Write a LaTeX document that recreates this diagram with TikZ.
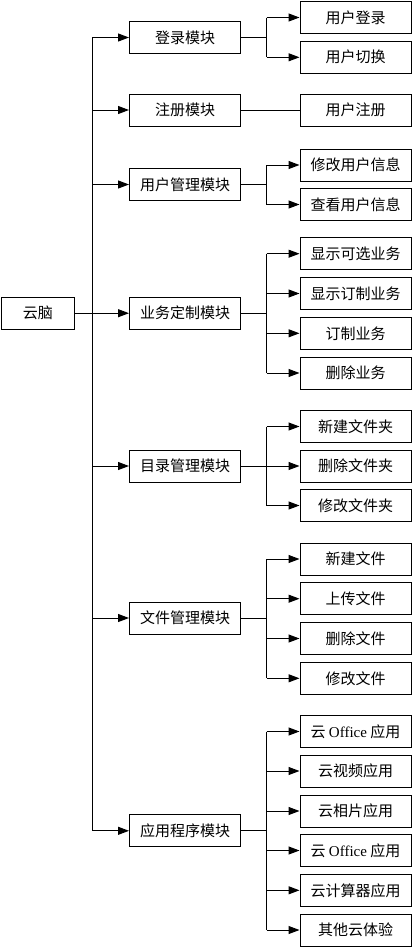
\documentclass[tikz,border=0pt]{standalone}
\usepackage{fontspec}
\setmainfont{Liberation Serif}
\newfontfamily\cjk{Noto Sans CJK SC}
\usetikzlibrary{arrows.meta}
\begin{document}
\begin{tikzpicture}[x=1pt,y=-1pt,
  box/.style={draw,line width=1pt,minimum width=111pt,minimum height=32pt,inner sep=0pt,
    font=\cjk\fontsize{15pt}{17pt}\selectfont},
  rootbox/.style={box,minimum width=72.5pt},
  conn/.style={line width=1pt},
  arr/.style={conn,-{Triangle[length=11pt,width=8pt]}}]
\useasboundingbox (0,0) rectangle (413,948);
\coordinate (T) at (92.3,0);
\coordinate (S) at (266.7,0);
% root
\node[rootbox] (root) at (37.8,313.2) {云脑};
% modules
\node[box] (m1) at (185,37.5) {登录模块};
\node[box] (m2) at (185,110) {注册模块};
\node[box] (m3) at (185,184.5) {用户管理模块};
\node[box] (m4) at (185,313.2) {业务定制模块};
\node[box] (m5) at (185,466) {目录管理模块};
\node[box] (m6) at (185,618) {文件管理模块};
\node[box] (m7) at (185,830.8) {应用程序模块};
% leaves
\node[box] (l11) at (355.5,17.5) {用户登录};
\node[box] (l12) at (355.5,57.3) {用户切换};
\node[box] (l21) at (355.5,110) {用户注册};
\node[box] (l31) at (355.5,165) {修改用户信息};
\node[box] (l32) at (355.5,204.5) {查看用户信息};
\node[box] (l41) at (355.5,253.7) {显示可选业务};
\node[box] (l42) at (355.5,293.5) {显示订制业务};
\node[box] (l43) at (355.5,333.3) {订制业务};
\node[box] (l44) at (355.5,373) {删除业务};
\node[box] (l51) at (355.5,426.5) {新建文件夹};
\node[box] (l52) at (355.5,466) {删除文件夹};
\node[box] (l53) at (355.5,505.5) {修改文件夹};
\node[box] (l61) at (355.5,559) {新建文件};
\node[box] (l62) at (355.5,598.7) {上传文件};
\node[box] (l63) at (355.5,638.5) {删除文件};
\node[box] (l64) at (355.5,678.3) {修改文件};
\node[box] (l71) at (355.5,731.5) {云 {\rmfamily Office} 应用};
\node[box] (l72) at (355.5,771) {云视频应用};
\node[box] (l73) at (355.5,811) {云相片应用};
\node[box] (l74) at (355.5,850.5) {云 {\rmfamily Office} 应用};
\node[box] (l75) at (355.5,890.3) {云计算器应用};
\node[box] (l76) at (355.5,930) {其他云体验};
% trunk
\draw[conn] (m1.west -| T) -- (m7.west -| T);
\draw[arr] (root) -- (m4);
\foreach \m in {m1,m2,m3,m5,m6,m7}
  \draw[arr] (\m.west -| T) -- (\m.west);
% register
\draw[conn] (m2) -- (l21);
% sub branches
\foreach \m/\first/\last/\all in {m1/l11/l12/{l11,l12}, m3/l31/l32/{l31,l32},
    m4/l41/l44/{l41,l42,l43,l44}, m5/l51/l53/{l51,l52,l53},
    m6/l61/l64/{l61,l62,l63,l64}, m7/l71/l76/{l71,l72,l73,l74,l75,l76}}{
  \draw[conn] (\m.east) -- (\m.east -| S);
  \draw[conn] (\first.west -| S) -- (\last.west -| S);
  \foreach \l in \all
    \draw[arr] (\l.west -| S) -- (\l.west);
}
\end{tikzpicture}
\end{document}
